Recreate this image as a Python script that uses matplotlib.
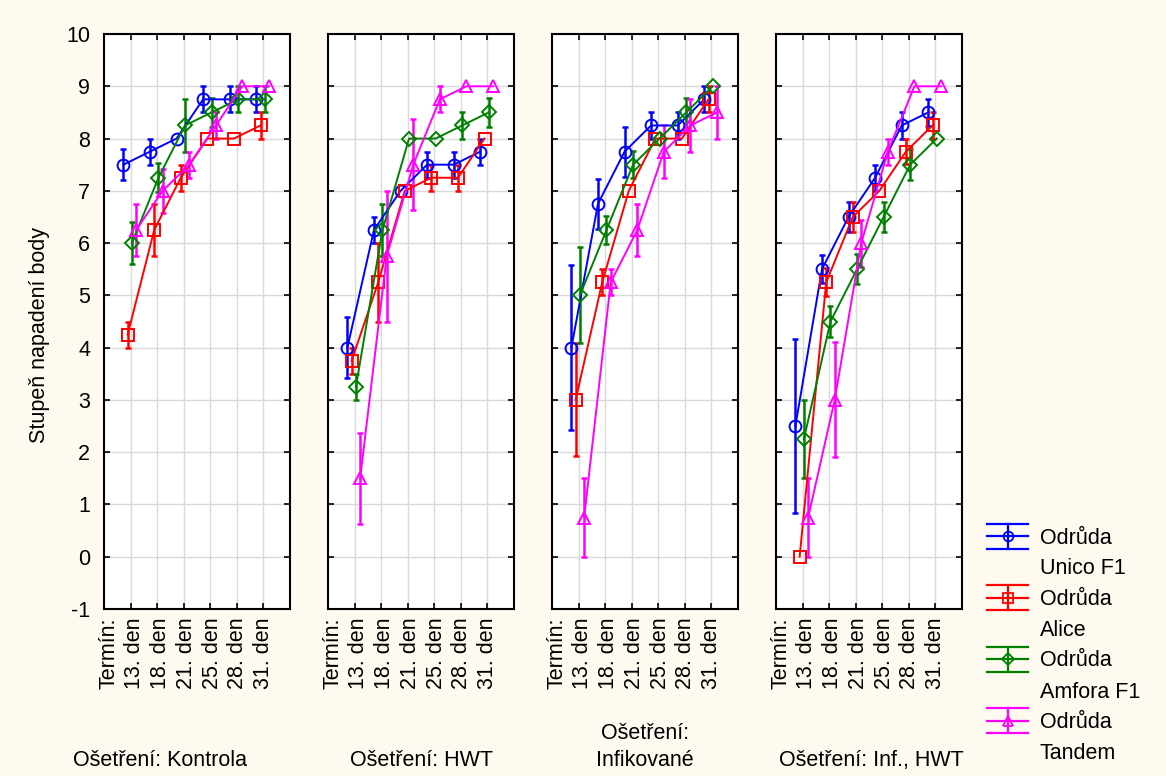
import matplotlib.pyplot as plt
import numpy as np

plt.rcParams['font.family'] = ['Liberation Sans', 'DejaVu Sans']
plt.rcParams['axes.unicode_minus'] = False
plt.rcParams['font.size'] = 15.5

treatments = ['Ošetření: Kontrola', 'Ošetření: HWT', 'Ošetření:\nInfikované', 'Ošetření: Inf., HWT']
term_label = 'Termín:'
days = ['13. den', '18. den', '21. den', '25. den', '28. den', '31. den']
variety_prefix = 'Odrůda'
varieties = ['Unico F1', 'Alice', 'Amfora F1', 'Tandem']

# mean score per treatment (rows) and day (columns), one block per variety
unico_mean = [[7.5, 7.75, 8.0, 8.75, 8.75, 8.75],
              [4.0, 6.25, 7.0, 7.5, 7.5, 7.75],
              [4.0, 6.75, 7.75, 8.25, 8.25, 8.75],
              [2.5, 5.5, 6.5, 7.25, 8.25, 8.5]]
unico_err = [[0.3, 0.25, 0, 0.25, 0.25, 0.25],
             [0.58, 0.25, 0, 0.25, 0.25, 0.25],
             [1.58, 0.48, 0.48, 0.25, 0.25, 0.25],
             [1.67, 0.27, 0.28, 0.25, 0.25, 0.26]]

alice_mean = [[4.25, 6.25, 7.25, 8.0, 8.0, 8.25],
              [3.75, 5.25, 7.0, 7.25, 7.25, 8.0],
              [3.0, 5.25, 7.0, 8.0, 8.0, 8.75],
              [0.0, 5.25, 6.5, 7.0, 7.75, 8.25]]
alice_err = [[0.25, 0.5, 0.25, 0, 0, 0.25],
             [0.25, 0.75, 0, 0.25, 0.25, 0],
             [1.08, 0.25, 0, 0, 0, 0.25],
             [0, 0.27, 0.28, 0, 0.24, 0.25]]

amfora_mean = [[6.0, 7.25, 8.25, 8.5, 8.75, 8.75],
               [3.25, 6.25, 8.0, 8.0, 8.25, 8.5],
               [5.0, 6.25, 7.5, 8.0, 8.5, 9.0],
               [2.25, 4.5, 5.5, 6.5, 7.5, 8.0]]
amfora_err = [[0.4, 0.28, 0.5, 0.28, 0.25, 0.25],
              [0.25, 0.5, 0, 0, 0.25, 0.28],
              [0.92, 0.26, 0.26, 0, 0.27, 0],
              [0.75, 0.29, 0.29, 0.29, 0.3, 0]]

tandem_mean = [[6.25, 7.0, 7.5, 8.25, 9.0, 9.0],
               [1.5, 5.75, 7.5, 8.75, 9.0, 9.0],
               [0.75, 5.25, 6.25, 7.75, 8.25, 8.5],
               [0.75, 3.0, 6.0, 7.75, 9.0, 9.0]]
tandem_err = [[0.5, 0.42, 0.25, 0.25, 0, 0],
              [0.87, 1.25, 0.87, 0.25, 0, 0],
              [0.75, 0.25, 0.5, 0.5, 0.5, 0.5],
              [0.75, 1.1, 0.45, 0.25, 0, 0]]

means = [unico_mean, alice_mean, amfora_mean, tandem_mean]
errs = [unico_err, alice_err, amfora_err, tandem_err]
colors = ['#0000ff', '#ff0000', '#008000', '#ff00ff']
markers = ['o', 's', 'D', '^']
msizes = [8.5, 8.5, 7.5, 9]
offsets = [-0.27, -0.11, 0.05, 0.21]

W, H = 1166, 776
fig = plt.figure(figsize=(W / 100, H / 100), dpi=100, facecolor='#fefaf0')

x = np.arange(len(days))
label_pos = -0.81 + 0.97 * np.arange(len(days) + 1)
title_x = [160, 422, 645, 871]

for i, title in enumerate(treatments):
    ax = fig.add_axes([(104 + 224 * i) / W, (H - 609) / H, 186 / W, 575 / H])
    ax.set_facecolor('white')
    for j in range(len(varieties)):
        y = np.array(means[j][i])
        e = np.array(errs[j][i])
        xs = x + offsets[j]
        m = e > 0
        ax.errorbar(xs[m], y[m], yerr=e[m], fmt='none', ecolor=colors[j],
                    elinewidth=1.8, capsize=2.2, capthick=1.8, zorder=3)
        ax.plot(xs, y, color=colors[j], lw=1.4, marker=markers[j], ms=msizes[j],
                mfc='none', mec=colors[j], mew=1.4, zorder=4)

    ax.set_xlim(-1, 6)
    ax.set_ylim(-1, 10)
    ax.set_xticks(x, minor=True)
    ax.set_xticks(label_pos)
    ax.set_xticklabels([term_label] + days, rotation=90)
    ax.tick_params(axis='x', which='major', length=0, pad=6)
    ax.tick_params(axis='x', which='minor', direction='in', length=4, width=1.2,
                   top=True)
    ax.set_yticks(np.arange(-1, 11))
    ax.tick_params(axis='y', direction='in', length=4, width=1.2, right=True, pad=10)
    if i > 0:
        ax.tick_params(axis='y', labelleft=False)
    ax.grid(True, which='minor', axis='x', color='#d9d9d9', lw=1)
    ax.grid(True, which='major', axis='y', color='#d9d9d9', lw=1)
    ax.set_axisbelow(True)
    for sp in ax.spines.values():
        sp.set_linewidth(1.5)

    fig.text(title_x[i] / W, 1 - 771 / H, title, ha='center', va='bottom',
             linespacing=1.4)

fig.text(40 / W, 1 - 335 / H, 'Stupeň napadení body', rotation=90,
         ha='center', va='center')

# legend drawn in pixel units on its own axes
lax = fig.add_axes([975 / W, 0, 191 / W, 1 - 500 / H])
lax.set_xlim(975, 1166)
lax.set_ylim(H, 500)
lax.axis('off')
for j, name in enumerate(varieties):
    yc = 536 + 61.5 * j
    c = colors[j]
    for dy in (-12.5, 0, 12.5):
        lax.plot([987, 1028], [yc + dy, yc + dy], color=c, lw=1.6)
    lax.plot([1008, 1008], [yc - 12.5, yc + 12.5], color=c, lw=1.6)
    lax.plot([1008], [yc], marker=markers[j], ms=msizes[j] - 1.5, mfc='none',
             mec=c, mew=1.3)
    lax.text(1040, yc + 2, variety_prefix, va='center', ha='left')
    lax.text(1040, yc + 33, name, va='center', ha='left')

fig.savefig('out.png', dpi=100, facecolor=fig.get_facecolor())
